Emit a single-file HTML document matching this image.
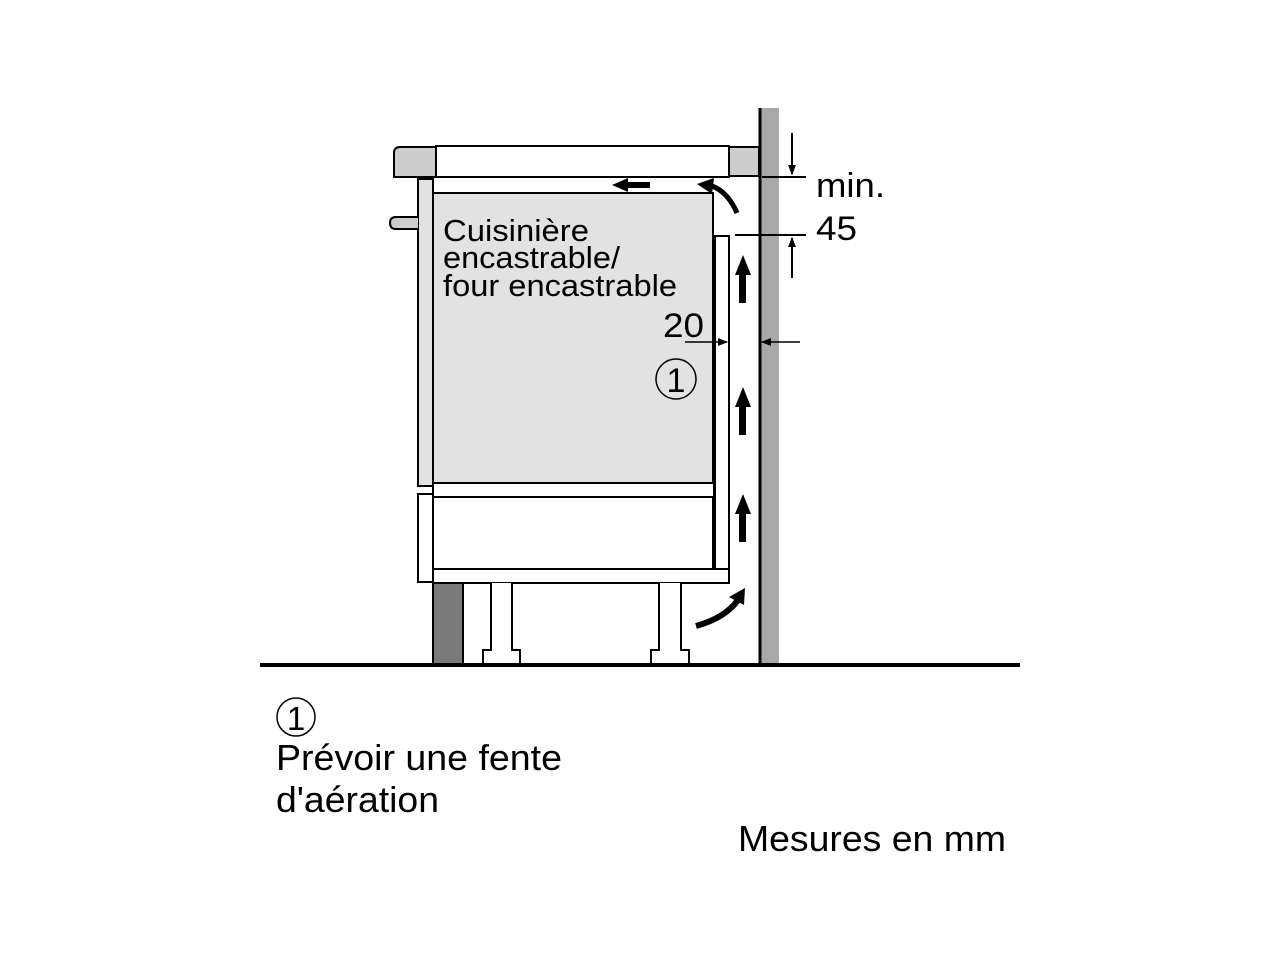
<!DOCTYPE html>
<html><head><meta charset="utf-8"><style>html,body{margin:0;padding:0;background:#fff}svg{display:block}text{font-family:"Liberation Sans",sans-serif;fill:#000}</style></head><body>
<svg width="1282" height="961" viewBox="0 0 1282 961" xmlns="http://www.w3.org/2000/svg">
<defs><marker id="ah" markerWidth="10" markerHeight="8" refX="9" refY="4" orient="auto" markerUnits="userSpaceOnUse"><path d="M0,0 L10,4 L0,8 z" fill="#000"/></marker></defs>
<g stroke="#000" stroke-width="2">
<rect x="760" y="108" width="19" height="557" fill="#a8a8a8" stroke="none"/>
<line x1="760" y1="108" x2="760" y2="665" stroke-width="3"/>
<path d="M400,147 L440,147 L440,177 L394,177 L394,153 Q394,147 400,147z" fill="#cdcdcd"/>
<rect x="717" y="147" width="42" height="29" fill="#cdcdcd"/>
<rect x="436" y="146" width="293" height="31" fill="#fff"/>
<rect x="418" y="179" width="15" height="307" fill="#e2e2e2"/>
<rect x="418" y="494" width="15" height="88" fill="#fff"/>
<path d="M418,217 L396,217 Q390,217 390,223 Q390,229 396,229 L418,229" fill="#cdcdcd"/>
<rect x="433" y="193" width="280" height="290" fill="#e2e2e2"/>
<rect x="433" y="483" width="281" height="14" fill="#fff"/>
<rect x="433" y="497" width="280" height="72" fill="#fff"/>
<rect x="433" y="569" width="296" height="14" fill="#fff"/>
<rect x="715" y="236" width="14" height="333" fill="#fff"/>
<rect x="433" y="583" width="30" height="81" fill="#7a7a7a"/>
<path d="M491,583 L491,650 L483,650 L483,664 L520,664 L520,650 L512,650 L512,583" fill="#fff"/>
<path d="M659,583 L659,650 L651,650 L651,664 L689,664 L689,650 L681,650 L681,583" fill="#fff"/>
</g>
<line x1="260" y1="665" x2="1020" y2="665" stroke="#000" stroke-width="4"/>
<g fill="#000">
<path d="M739,303 L746,303 L746,275 L751,275 L743,255 L735,275 L739,275z"/>
<path d="M739,435 L746,435 L746,407 L751,407 L743,387 L735,407 L739,407z"/>
<path d="M739,542 L746,542 L746,514 L751,514 L743,494 L735,514 L739,514z"/>
<path d="M650,182 L650,188 L628,188 L628,192 L612,185 L628,178 L628,182z"/>
</g>
<path d="M737,213 Q728,192 712,186" fill="none" stroke="#000" stroke-width="5"/>
<path d="M697,184 L714,178 L712,194z" fill="#000"/>
<path d="M696,626 Q725,618 738,600" fill="none" stroke="#000" stroke-width="6"/>
<path d="M745,588 L729,597 L744,605z" fill="#000"/>
<g stroke="#000" stroke-width="2">
<line x1="762" y1="177" x2="806" y2="177"/>
<line x1="735" y1="235" x2="806" y2="235"/>
<line x1="792" y1="133" x2="792" y2="174" marker-end="url(#ah)"/>
<line x1="792" y1="278" x2="792" y2="238" marker-end="url(#ah)"/>
<line x1="685" y1="342" x2="727" y2="342" stroke-width="1.5" marker-end="url(#ah)"/>
<line x1="800" y1="342" x2="762" y2="342" stroke-width="1.5" marker-end="url(#ah)"/>
</g>
<text x="816" y="197" font-size="34" textLength="69" lengthAdjust="spacingAndGlyphs">min.</text>
<text x="816" y="240" font-size="34" textLength="41" lengthAdjust="spacingAndGlyphs">45</text>
<text x="663" y="337" font-size="34" textLength="41" lengthAdjust="spacingAndGlyphs">20</text>
<circle cx="676" cy="379" r="20" fill="none" stroke="#000" stroke-width="1.5"/>
<text x="676" y="392" font-size="34" text-anchor="middle">1</text>
<text x="443" y="241" font-size="31" textLength="146" lengthAdjust="spacingAndGlyphs">Cuisinière</text>
<text x="443" y="268" font-size="31" textLength="177" lengthAdjust="spacingAndGlyphs">encastrable/</text>
<text x="443" y="296" font-size="31" textLength="234" lengthAdjust="spacingAndGlyphs">four encastrable</text>
<circle cx="296" cy="717" r="19" fill="none" stroke="#000" stroke-width="1.5"/>
<text x="296" y="730" font-size="33" text-anchor="middle">1</text>
<text x="276" y="770" font-size="36" textLength="286" lengthAdjust="spacingAndGlyphs">Prévoir une fente</text>
<text x="276" y="812" font-size="36" textLength="163" lengthAdjust="spacingAndGlyphs">d'aération</text>
<text x="738" y="851" font-size="36" textLength="268" lengthAdjust="spacingAndGlyphs">Mesures en mm</text>
</svg>
</body></html>
